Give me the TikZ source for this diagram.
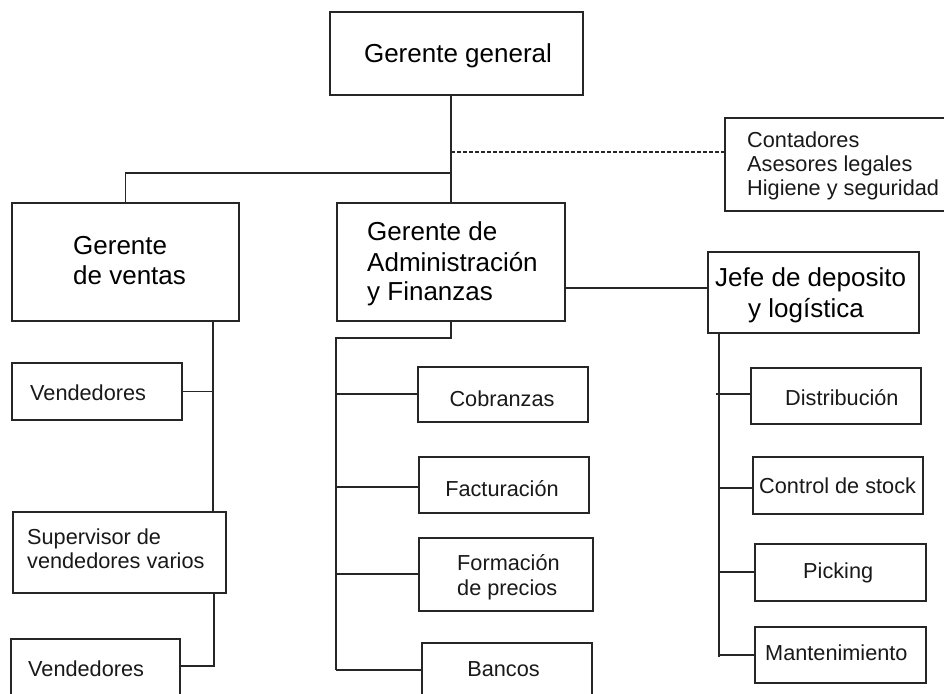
\documentclass[tikz,border=0pt]{standalone}
\usepackage{fontspec}
\setmainfont{Liberation Sans}
\begin{document}
\begin{tikzpicture}[x=1pt,y=-1pt,
  boxst/.style={draw=black!85,line width=1.8pt,inner sep=0pt,outer sep=0pt,rectangle},
  big/.style={inner sep=0pt,anchor=base west,font=\fontsize{26}{30}\selectfont},
  small/.style={inner sep=0pt,anchor=base west,text=black!90,font=\fontsize{21.7}{24}\selectfont},
  conn/.style={draw=black!85,line width=1.8pt},
  dashconn/.style={draw=black!85,line width=1.4pt,dash pattern=on 4pt off 2pt}]
\useasboundingbox (0,0) rectangle (944,693);
\clip (0,0) rectangle (944,693);
\fill[white] (0,0) rectangle (944,693);
% boxes
\node[boxst,minimum width=253pt,minimum height=83pt] (gg) at (456.5,53.5) {};
\node[boxst,minimum width=235pt,minimum height=93pt] (con) at (842.5,164.5) {};
\node[boxst,minimum width=227pt,minimum height=118pt] (ven) at (125.5,262) {};
\node[boxst,minimum width=228pt,minimum height=118pt] (adm) at (451,262) {};
\node[boxst,minimum width=211pt,minimum height=81pt] (jef) at (813.5,292.5) {};
\node[boxst,minimum width=170pt,minimum height=57pt] (vd1) at (97,391.5) {};
\node[boxst,minimum width=213pt,minimum height=81pt] (sup) at (119.5,552.5) {};
\node[boxst,minimum width=169pt,minimum height=71pt] (vd2) at (95.5,674.5) {};
\node[boxst,minimum width=170pt,minimum height=55pt] (cob) at (503,394.5) {};
\node[boxst,minimum width=170pt,minimum height=56pt] (fac) at (504,485) {};
\node[boxst,minimum width=174pt,minimum height=73pt] (for) at (506,574.5) {};
\node[boxst,minimum width=170pt,minimum height=67pt] (ban) at (507,676.5) {};
\node[boxst,minimum width=170pt,minimum height=56pt] (dis) at (836,396) {};
\node[boxst,minimum width=170pt,minimum height=57pt] (ctl) at (838,485.5) {};
\node[boxst,minimum width=171pt,minimum height=57pt] (pic) at (840.5,572.5) {};
\node[boxst,minimum width=171pt,minimum height=56pt] (man) at (840.5,655) {};
% texts
\node[big,anchor=base] (tgg) at (458,63) {Gerente general};
\node[small] (tc1) at (747,147) {Contadores};
\node[small] (tc2) at (747,171) {Asesores legales};
\node[small] (tc3) at (747,195) {Higiene y seguridad};
\node[big] (tv1) at (73,254) {Gerente};
\node[big] (tv2) at (73,284) {de ventas};
\node[big] (ta1) at (367,240.5) {Gerente de};
\node[big] (ta2) at (367,271) {Administración};
\node[big] (ta3) at (367,300) {y Finanzas};
\node[big] (tj1) at (715,286.5) {Jefe de deposito};
\node[big] (tj2) at (748,317) {y logística};
\node[small] (tvd1) at (30,400.5) {Vendedores};
\node[small] (ts1) at (27,544) {Supervisor de};
\node[small] (ts2) at (27,568) {vendedores varios};
\node[small] (tvd2) at (28,676) {Vendedores};
\node[small,anchor=base] (tcob) at (502,406.5) {Cobranzas};
\node[small,anchor=base] (tfac) at (502,496) {Facturación};
\node[small] (tf1) at (457,570) {Formación};
\node[small] (tf2) at (457,595) {de precios};
\node[small,anchor=base] (tban) at (503.5,676.5) {Bancos};
\node[small] (tdis) at (785,405) {Distribución};
\node[small] (tctl) at (759,493.5) {Control de stock};
\node[small] (tpic) at (803,578.5) {Picking};
\node[small] (tman) at (765,660) {Mantenimiento};
% connectors
\draw[conn] (adm.north) -- (adm.north |- gg.south);
\coordinate (j1) at (451,152);
\draw[dashconn] (j1) -- (j1 -| con.west);
\coordinate (j2) at (451,173);
\draw[conn] (j2) -| (ven.north);
\coordinate (aj) at (565,288);
\draw[conn] (aj) -- (aj -| jef.west);
% ventas
\coordinate (vb) at (213,321);
\draw[conn] (vb) -- (vb |- sup.north);
\draw[conn] (vd1.east) -- (vd1.east -| vb);
\coordinate (sb) at (214,593);
\coordinate (v2) at (180,666);
\draw[conn] (sb) |- (v2);
% administracion
\coordinate (ab) at (336,338);
\draw[conn] (adm.south) |- (ab) -- (336,670);
\draw[conn] (336,394) -- (cob.west |- 0,394);
\draw[conn] (336,487) -- (fac.west |- 0,487);
\draw[conn] (336,574) -- (for.west |- 0,574);
\draw[conn] (336,670) -- (ban.west |- 0,670);
% deposito
\coordinate (jb) at (719,333);
\draw[conn] (jb) -- (719,657);
\draw[conn] (716,394) -- (dis.west |- 0,394);
\draw[conn] (719,488) -- (ctl.west |- 0,488);
\draw[conn] (719,572) -- (pic.west |- 0,572);
\draw[conn] (719,655) -- (man.west |- 0,655);
\end{tikzpicture}
\end{document}
